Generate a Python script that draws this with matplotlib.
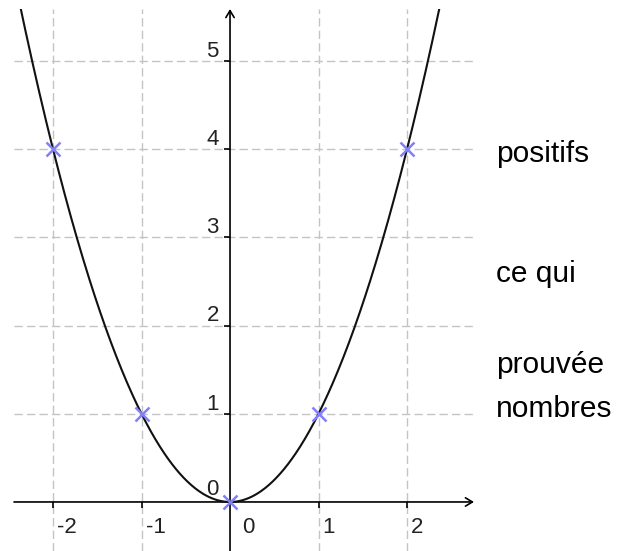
import numpy as np
import matplotlib
matplotlib.use("Agg")
import matplotlib.pyplot as plt

plt.rcParams["font.family"] = ["Liberation Sans", "DejaVu Sans"]

# sample points of y = x^2 marked with crosses
pts_x = [-2, -1, 0, 1, 2]
pts_y = [4, 1, 0, 1, 4]
# grid / tick positions
xticks = [-2, -1, 1, 2]
yticks = [1, 2, 3, 4, 5]
xlabels = ["-2", "-1", "1", "2"]
ylabels = ["1", "2", "3", "4", "5"]
# the text cut off on the right
side_words = ["positifs", "ce qui", "prouvée", "nombres"]
side_baselines = [162, 282, 373, 417]  # pixels from top

W, H = 634, 551
fig = plt.figure(figsize=(W / 100, H / 100), dpi=100)
# axes area in pixels: x 14..474, y 9..551 (from top)
ax = fig.add_axes([14 / W, 0, 460 / W, 542 / H])
ax.set_axis_off()
xmin, xmax = -2.441, 2.757
ymin, ymax = -0.556, 5.590
ax.set_xlim(xmin, xmax)
ax.set_ylim(ymin, ymax)

grid_kw = dict(color="#c4c4c4", lw=1.0, linestyle=(0, (6, 3)), zorder=1)
for v in xticks:
    ax.axvline(v, **grid_kw)
for v in yticks:
    ax.axhline(v, **grid_kw)

# axes with arrows
ax.annotate("", xy=(xmax, 0), xytext=(xmin, 0),
            arrowprops=dict(arrowstyle="->,head_length=0.5,head_width=0.3",
                            color="black", lw=1.2, shrinkA=0, shrinkB=0),
            annotation_clip=False, zorder=3)
ax.annotate("", xy=(0, ymax), xytext=(0, ymin),
            arrowprops=dict(arrowstyle="->,head_length=0.5,head_width=0.3",
                            color="black", lw=1.2, shrinkA=0, shrinkB=0),
            annotation_clip=False, zorder=3)

# small tick marks
ax.plot(xticks, [0] * len(xticks), linestyle="none", marker=3,
        markersize=4, mew=1.2, color="black", zorder=3)
ax.plot([0] * len(yticks), yticks, linestyle="none", marker=0,
        markersize=4, mew=1.2, color="black", zorder=3)

# tick labels
fs = 16
for v, lab in zip(xticks, xlabels):
    ax.annotate(lab, (v, 0), xytext=(3, -22), textcoords="offset points",
                ha="left", va="baseline", fontsize=fs, color="#222222")
ax.annotate("0", (0, 0), xytext=(9, -22), textcoords="offset points",
            ha="left", va="baseline", fontsize=fs, color="#222222")
for v, lab in zip(yticks, ylabels):
    ax.annotate(lab, (0, v), xytext=(-8, 3), textcoords="offset points",
                ha="right", va="baseline", fontsize=fs, color="#222222")
ax.annotate("0", (0, 0), xytext=(-8, 5), textcoords="offset points",
            ha="right", va="baseline", fontsize=fs, color="#222222")

# the parabola
cx = np.linspace(xmin, xmax, 600)
ax.plot(cx, cx ** 2, color="#111111", lw=1.5, zorder=4)

# marked points
ax.plot(pts_x, pts_y, linestyle="none", marker="x", markersize=9.5,
        mew=1.8, color="#8080ff", zorder=5)

# side text
for word, yb in zip(side_words, side_baselines):
    fig.text(496 / W, 1 - yb / H, word, fontsize=21.5, ha="left",
             va="baseline", color="black")

fig.savefig("out.png", dpi=100)
